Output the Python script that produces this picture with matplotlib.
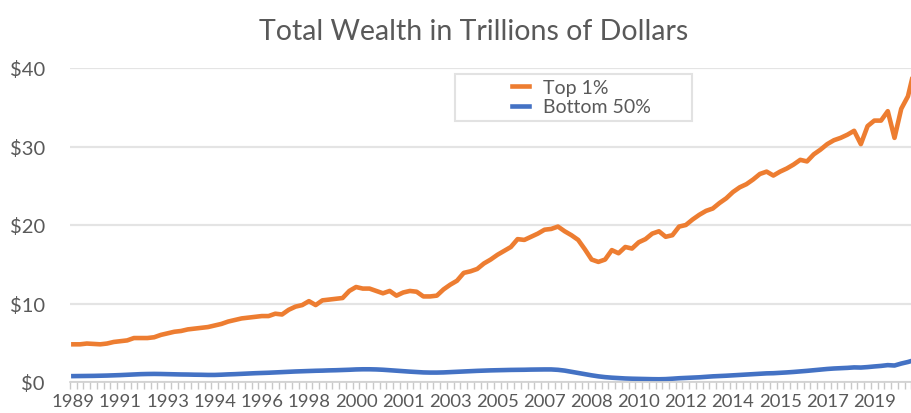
import matplotlib.pyplot as plt
import matplotlib.patches as mpatches
import numpy as np

plt.rcParams['font.family'] = ['Lato', 'DejaVu Sans']

# Quarterly data, 1989 Q3 onward (trillions of dollars)
top_1 = [
    4.8, 4.8, 4.9, 4.85, 4.8, 4.9, 5.1, 5.2, 5.3, 5.6,
    5.6, 5.6, 5.7, 6.0, 6.2, 6.4, 6.5, 6.7, 6.8, 6.9,
    7.0, 7.2, 7.4, 7.7, 7.9, 8.1, 8.2, 8.3, 8.4, 8.4,
    8.7, 8.6, 9.2, 9.6, 9.8, 10.3, 9.8, 10.4, 10.5, 10.6,
    10.7, 11.6, 12.1, 11.9, 11.9, 11.6, 11.3, 11.6, 11.0, 11.4,
    11.6, 11.5, 10.9, 10.9, 11.0, 11.8, 12.4, 12.9, 13.9, 14.1,
    14.4, 15.1, 15.6, 16.2, 16.7, 17.2, 18.2, 18.1, 18.5, 18.9,
    19.4, 19.5, 19.8, 19.2, 18.7, 18.1, 16.9, 15.6, 15.3, 15.6,
    16.8, 16.4, 17.2, 17.0, 17.8, 18.2, 18.9, 19.2, 18.5, 18.7,
    19.8, 20.0, 20.7, 21.3, 21.8, 22.1, 22.8, 23.4, 24.2, 24.8,
    25.2, 25.8, 26.5, 26.8, 26.3, 26.8, 27.2, 27.7, 28.3, 28.1,
    29.0, 29.6, 30.3, 30.8, 31.1, 31.5, 32.0, 30.3, 32.6, 33.3,
    33.3, 34.5, 31.1, 34.8, 36.4, 40.0,
]
bottom_50 = [
    0.75, 0.76, 0.77, 0.78, 0.80, 0.82, 0.85, 0.88, 0.92, 0.96,
    1.0, 1.02, 1.03, 1.02, 1.0, 0.98, 0.96, 0.95, 0.93, 0.92,
    0.9, 0.9, 0.93, 0.97, 1.0, 1.04, 1.08, 1.12, 1.15, 1.18,
    1.22, 1.26, 1.3, 1.34, 1.37, 1.4, 1.43, 1.45, 1.48, 1.5,
    1.53, 1.56, 1.6, 1.62, 1.62, 1.6, 1.56, 1.5, 1.44, 1.38,
    1.32, 1.27, 1.22, 1.2, 1.2, 1.22, 1.26, 1.3, 1.34, 1.38,
    1.42, 1.45, 1.48, 1.5, 1.52, 1.54, 1.55, 1.56, 1.58, 1.59,
    1.6, 1.6, 1.55, 1.45, 1.3, 1.15, 1.0, 0.85, 0.72, 0.62,
    0.55, 0.5, 0.45, 0.42, 0.4, 0.38, 0.36, 0.35, 0.37, 0.42,
    0.48, 0.52, 0.56, 0.6, 0.66, 0.72, 0.76, 0.8, 0.85, 0.9,
    0.95, 1.0, 1.05, 1.1, 1.12, 1.17, 1.22, 1.28, 1.35, 1.42,
    1.5, 1.58, 1.66, 1.72, 1.76, 1.8, 1.86, 1.84, 1.9, 1.98,
    2.05, 2.15, 2.1, 2.35, 2.55, 2.8,
]
tick_labels = ['1989', '1991', '1993', '1994', '1996', '1998', '2000', '2001', '2003',
               '2005', '2007', '2008', '2010', '2012', '2014', '2015', '2017', '2019']
y_ticks = [0, 10, 20, 30, 40]

grey = '#595959'
x = np.arange(len(top_1))

fig = plt.figure(figsize=(9.12, 4.14), dpi=100)
ax = fig.add_axes([70 / 912, 1 - 383 / 414, 1 - 70 / 912, 314 / 414])

ax.plot(x, top_1, color='#ED7D31', lw=3.3, label='Top 1%', solid_joinstyle='round')
ax.plot(x, bottom_50, color='#4472C4', lw=3.3, label='Bottom 50%', solid_joinstyle='round')

ax.set_xlim(-0.3, 124.6)
ax.set_ylim(0, 40)

# gridlines
ax.set_yticks(y_ticks)
ax.set_yticklabels([f'${v}' for v in y_ticks], color=grey, fontsize=14.5)
ax.yaxis.grid(True, color='#E4E4E4', lw=1.6)
ax.set_axisbelow(True)
ax.tick_params(axis='y', length=0, pad=18)

# category ticks
ax.set_xticks(x[::7][:len(tick_labels)])
ax.set_xticklabels(tick_labels, color=grey, fontsize=13.3)
ax.set_xticks(np.arange(-0.5, 125, 1), minor=True)
ax.tick_params(axis='x', which='major', length=0, pad=8)
ax.tick_params(axis='x', which='minor', length=5, width=1, color='#C8C8C8')

for s in ['top', 'right', 'left']:
    ax.spines[s].set_visible(False)
ax.spines['bottom'].set_color('#D0D0D0')
ax.spines['bottom'].set_linewidth(1.2)

fig.text(474 / 912, 1 - 32 / 414, 'Total Wealth in Trillions of Dollars',
         ha='center', va='center', fontsize=20.5, color=grey)

# legend box
fig.patches.append(mpatches.Rectangle((455 / 912, 1 - 122 / 414), 237 / 912, 47 / 414,
                                      transform=fig.transFigure, fill=False,
                                      edgecolor='#E2E2E2', lw=1.5))
leg = fig.legend(loc='center left', bbox_to_anchor=(502 / 912, 1 - 98 / 414),
                 frameon=False, fontsize=14, handlelength=0.9, handletextpad=0.7,
                 labelspacing=0.15, borderpad=0)
for t in leg.get_texts():
    t.set_color(grey)

fig.savefig('out.png', dpi=100)
